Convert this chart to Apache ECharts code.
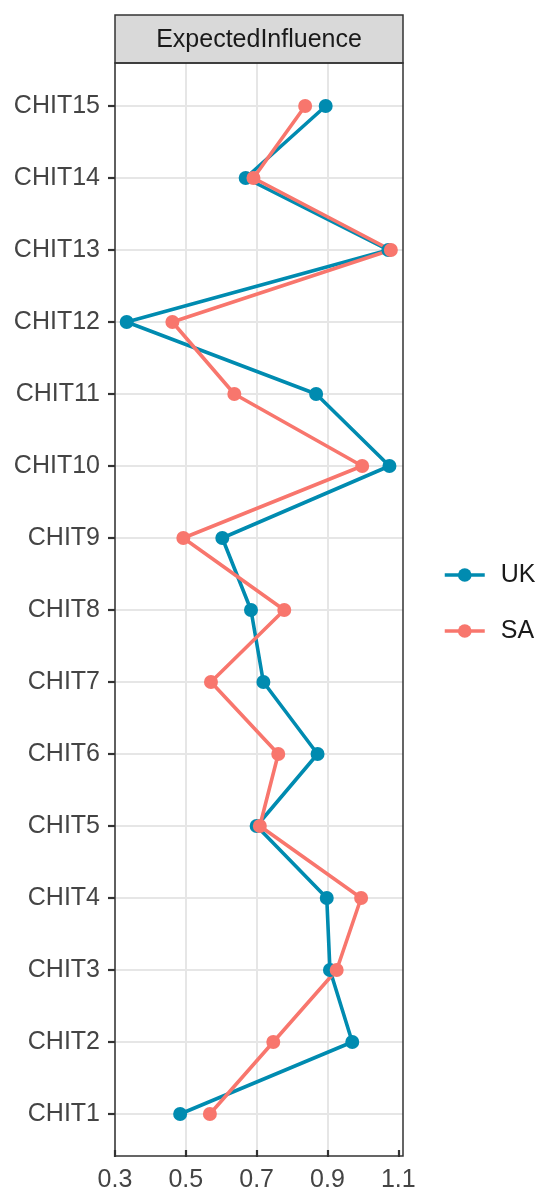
<!DOCTYPE html>
<html>
<head>
<meta charset="utf-8">
<script src="https://cdn.jsdelivr.net/npm/echarts@6/dist/echarts.min.js"></script>
<style>
html,body{margin:0;padding:0;background:#fff;}
#chart{width:537px;height:1193px;}
</style>
</head>
<body>
<div id="chart"></div>
<script>
var categories = ['CHIT1','CHIT2','CHIT3','CHIT4','CHIT5','CHIT6','CHIT7','CHIT8','CHIT9','CHIT10','CHIT11','CHIT12','CHIT13','CHIT14','CHIT15'];
var ukValues = [0.484, 0.970, 0.907, 0.898, 0.700, 0.872, 0.719, 0.684, 0.603, 1.075, 0.868, 0.333, 1.072, 0.669, 0.895];
var saValues = [0.568, 0.747, 0.926, 0.995, 0.709, 0.761, 0.571, 0.778, 0.493, 0.998, 0.637, 0.462, 1.079, 0.691, 0.837];
var xTickLabels = [0.3, 0.5, 0.7, 0.9, 1.1];
var facetTitle = 'ExpectedInfluence';
var seriesNames = ['UK', 'SA'];

var FONT = '"Liberation Sans", Arial, Helvetica, sans-serif';
var UK_COLOR = '#008bb0';
var SA_COLOR = '#f8766d';
var XMIN = 0.3, XMAX = 1.1133;

var chart = echarts.init(document.getElementById('chart'), null, {renderer: 'canvas'});

var legendText = {fontSize: 25, fontFamily: FONT, color: '#1a1a1a', lineHeight: 28, padding: [0, 0, 0, 11]};

var option = {
  animation: false,
  backgroundColor: '#ffffff',
  grid: [
    {left: 115, top: 63, width: 288, height: 1093, show: false},
    {left: 115, top: 106, width: 288, height: 1008, show: false}
  ],
  xAxis: [
    {
      gridIndex: 0, type: 'value', min: XMIN, max: XMAX, interval: 0.1,
      axisLine: {show: false},
      axisTick: {show: true, customValues: xTickLabels, length: 7, lineStyle: {color: '#333333', width: 2.2}},
      axisLabel: {show: true, customValues: xTickLabels, fontSize: 25, fontFamily: FONT, color: '#444444', margin: 18,
        formatter: function (v) { return v.toFixed(1); }},
      splitLine: {show: true, showMinLine: true, showMaxLine: false, lineStyle: {color: '#e6e6e6', width: 2}}
    },
    {gridIndex: 1, type: 'value', min: XMIN, max: XMAX, show: false}
  ],
  yAxis: [
    {gridIndex: 0, type: 'value', min: 0, max: 1, show: false},
    {
      gridIndex: 1, type: 'category', data: categories, boundaryGap: false,
      axisLine: {show: false},
      axisTick: {show: true, length: 7, lineStyle: {color: '#333333', width: 2.2}},
      axisLabel: {show: true, fontSize: 25, fontFamily: FONT, color: '#444444', margin: 15},
      splitLine: {show: true, lineStyle: {color: '#e6e6e6', width: 2}}
    }
  ],
  legend: [
    {
      data: [seriesNames[0]], orient: 'vertical', left: 438, top: 556,
      itemWidth: 40, itemHeight: 17, textStyle: legendText, lineStyle: {width: 3.5}
    },
    {
      data: [seriesNames[1]], orient: 'vertical', left: 438, top: 612,
      itemWidth: 40, itemHeight: 17, textStyle: legendText, lineStyle: {width: 3.5}
    }
  ],
  series: [
    {
      name: seriesNames[0], type: 'line', xAxisIndex: 1, yAxisIndex: 1,
      data: ukValues.map(function (v, i) { return [v, categories[i]]; }),
      symbol: 'circle', symbolSize: 14, clip: false,
      itemStyle: {color: UK_COLOR}, lineStyle: {color: UK_COLOR, width: 3.6}
    },
    {
      name: seriesNames[1], type: 'line', xAxisIndex: 1, yAxisIndex: 1,
      data: saValues.map(function (v, i) { return [v, categories[i]]; }),
      symbol: 'circle', symbolSize: 14, clip: false,
      itemStyle: {color: SA_COLOR}, lineStyle: {color: SA_COLOR, width: 3.6}
    }
  ],
  graphic: [
    {type: 'rect', shape: {x: 115, y: 15, width: 288, height: 48}, style: {fill: '#d9d9d9', stroke: '#333333', lineWidth: 1.5}, z: 100},
    {type: 'text', x: 259, y: 40, style: {text: facetTitle, textAlign: 'center', textVerticalAlign: 'middle', font: '25px ' + FONT, fill: '#1a1a1a'}, z: 101},
    {type: 'rect', shape: {x: 115, y: 63, width: 288, height: 1093}, style: {fill: 'none', stroke: '#333333', lineWidth: 1.5}, z: 100}
  ]
};
chart.setOption(option);
</script>
</body>
</html>
